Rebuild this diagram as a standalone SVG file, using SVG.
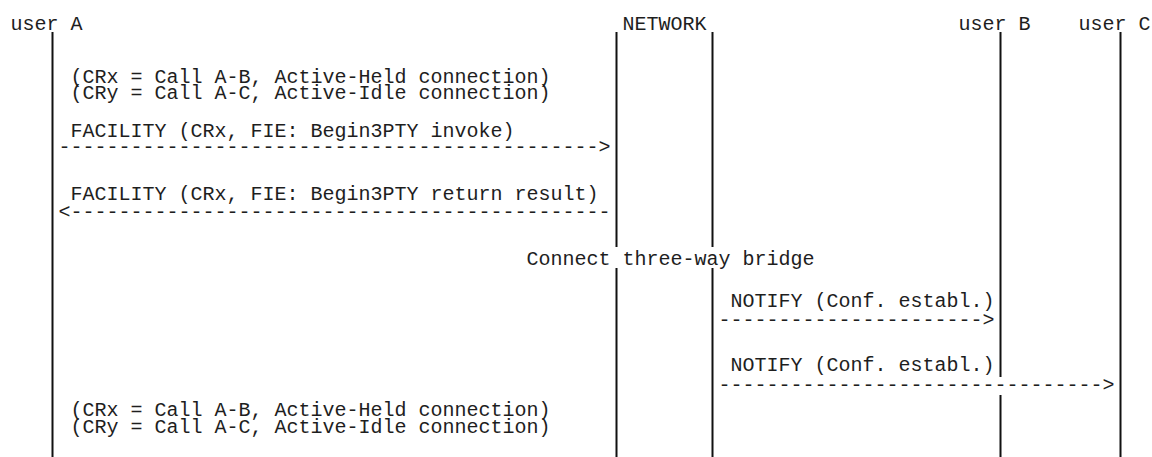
<svg xmlns="http://www.w3.org/2000/svg" width="1152" height="457" viewBox="0 0 1152 457">
<style>
text{font-family:"Liberation Mono","Courier New",monospace;font-size:20px;fill:#1e1e1e;white-space:pre}
.life{stroke:#111;stroke-width:2;fill:none}
</style>
<rect width="1152" height="457" fill="#fff"/>
<g id="userA">
<text x="10.5" y="30">user A</text>
<line class="life" x1="52.5" y1="32" x2="52.5" y2="457"/>
</g>
<g id="network">
<text x="622.5" y="30">NETWORK</text>
<path class="life" d="M616.5 32V247M616.5 268V457M712.5 32V247M712.5 268V457"/>
</g>
<g id="userB">
<text x="958.5" y="30">user B</text>
<path class="life" d="M1000.5 32V377M1000.5 395V457"/>
</g>
<g id="userC">
<text x="1078.5" y="30">user C</text>
<line class="life" x1="1120.5" y1="32" x2="1120.5" y2="457"/>
</g>
<g id="notes">
<text x="70.5" y="83">(CRx = Call A-B, Active-Held connection)</text>
<text x="70.5" y="99">(CRy = Call A-C, Active-Idle connection)</text>
<text x="526.5" y="265">Connect three-way bridge</text>
<text x="70.5" y="416">(CRx = Call A-B, Active-Held connection)</text>
<text x="70.5" y="433">(CRy = Call A-C, Active-Idle connection)</text>
</g>
<g id="connectors">
<text x="70.5" y="137">FACILITY (CRx, FIE: Begin3PTY invoke)</text>
<text x="58.5" y="153">---------------------------------------------&gt;</text>
<text x="70.5" y="200">FACILITY (CRx, FIE: Begin3PTY return result)</text>
<text x="58.5" y="218">&lt;---------------------------------------------</text>
<text x="730.5" y="307">NOTIFY (Conf. establ.)</text>
<text x="718.5" y="326">----------------------&gt;</text>
<text x="730.5" y="371">NOTIFY (Conf. establ.)</text>
<text x="718.5" y="391">--------------------------------&gt;</text>
</g>
</svg>
